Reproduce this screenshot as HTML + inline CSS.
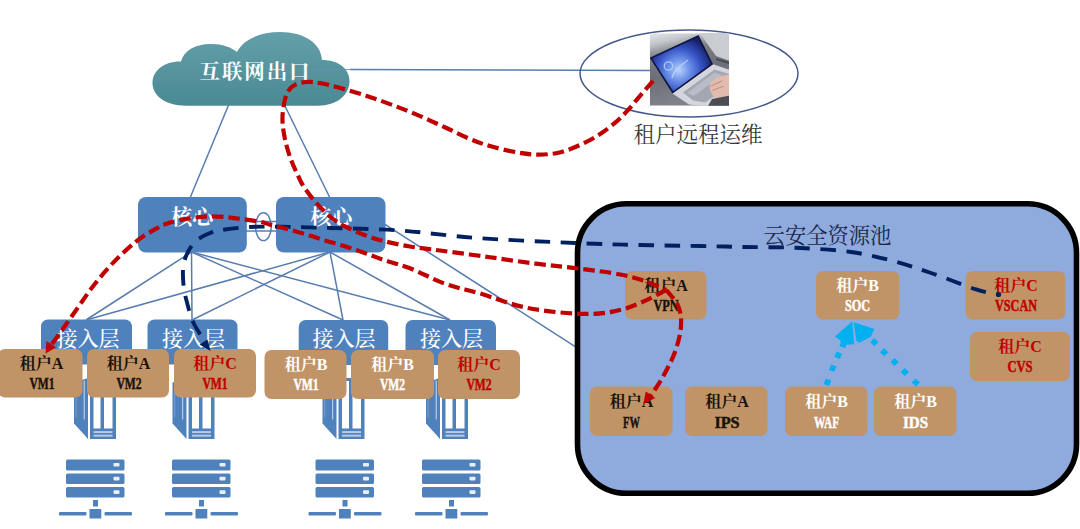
<!DOCTYPE html>
<html lang="zh-CN">
<head>
<meta charset="utf-8">
<title>云安全资源池</title>
<style>
  html,body{margin:0;padding:0;background:#fff;}
  body{width:1080px;height:529px;overflow:hidden;}
  svg{display:block;}
  .song{font-family:"Liberation Serif","Noto Serif CJK SC",serif;}
  .b{font-weight:700;}
  .w{fill:#fff;}
  .k{fill:#1a120a;}
  .r{fill:#c00000;}
  text[lengthAdjust].k{stroke:#1a120a;stroke-width:.45;}
  text[lengthAdjust].w{stroke:#fff;stroke-width:.45;}
  text[lengthAdjust].r{stroke:#c00000;stroke-width:.45;}
  .ln{stroke:#587cb0;stroke-width:1.5;fill:none;}
  .tan{fill:#c19467;}
  .acc{fill:#4f81bd;}
  .srv{fill:#4f81bd;}
  .red{stroke:#c00000;stroke-width:4.2;fill:none;stroke-dasharray:11.5 5;}
  .navy{stroke:#002060;stroke-width:3.9;fill:none;stroke-dasharray:15.5 10.5;stroke-dashoffset:13.5;}
  .cy{stroke:#00b0f0;stroke-width:6;fill:none;stroke-dasharray:6 8.5;}
</style>
</head>
<body>
<svg width="1080" height="529" viewBox="0 0 1080 529">
<defs>
  <linearGradient id="cloudg" x1="0" y1="0" x2="0" y2="1">
    <stop offset="0" stop-color="#639fa8"/>
    <stop offset="1" stop-color="#4a8a94"/>
  </linearGradient>
  <g id="rack">
    <rect x="0" y="0" width="58.5" height="11" rx="1.5" class="srv"/>
    <rect x="0" y="14" width="58.5" height="10.5" rx="1.5" class="srv"/>
    <rect x="0" y="27.5" width="58.5" height="10.5" rx="1.5" class="srv"/>
    <rect x="47.5" y="3.5" width="6" height="3.6" rx="0.8" fill="#eaf0f8"/>
    <rect x="47.5" y="17.3" width="6" height="3.6" rx="0.8" fill="#eaf0f8"/>
    <rect x="47.5" y="30.8" width="6" height="3.6" rx="0.8" fill="#eaf0f8"/>
    <rect x="27" y="40.5" width="5" height="6.5" class="srv"/>
    <rect x="23.5" y="49.5" width="11.8" height="9.5" class="srv"/>
    <rect x="-7" y="52.5" width="27.5" height="3.6" rx="1" class="srv"/>
    <rect x="38.5" y="52.5" width="27.5" height="3.6" rx="1" class="srv"/>
  </g>
  <g id="tower">
    <!-- side panel -->
    <polygon points="0,15 14,10.500 14,71.500 0,56" class="srv"/>
    <line x1="10.200" y1="13" x2="10.200" y2="52" stroke="#dbe6f4" stroke-width="0.900"/>
    <line x1="2.200" y1="16" x2="2.200" y2="50" stroke="#86a7d4" stroke-width="0.800"/>
    <!-- front -->
    <rect x="16" y="10.500" width="26" height="61" class="srv"/>
    <rect x="19.500" y="13.500" width="7" height="47.500" fill="#fff"/>
    <rect x="30" y="13.500" width="8.500" height="47.500" fill="#fff"/>
    <rect x="19.500" y="63.600" width="19" height="2" fill="#b7cbe8"/>
    <rect x="19.500" y="67.200" width="19" height="2" fill="#b7cbe8"/>
  </g>
</defs>

<!-- ============ thin connector lines ============ -->
<g class="ln">
  <line x1="350" y1="69.5" x2="651" y2="70.5"/>
  <line x1="229" y1="104" x2="190" y2="198"/>
  <line x1="284" y1="104" x2="330" y2="198"/>
  <!-- core1 fan-out -->
  <line x1="191.5" y1="252" x2="86" y2="320"/>
  <line x1="191.5" y1="252" x2="192" y2="320"/>
  <line x1="191.5" y1="252" x2="343" y2="320"/>
  <line x1="191.5" y1="252" x2="450" y2="320"/>
  <!-- core2 fan-out -->
  <line x1="330" y1="252" x2="86" y2="320"/>
  <line x1="330" y1="252" x2="192" y2="320"/>
  <line x1="330" y1="252" x2="343" y2="320"/>
  <line x1="330" y1="252" x2="450" y2="320"/>
  <!-- core2 to pool -->
  <line x1="385" y1="224.4" x2="576" y2="347.2"/>
  <!-- inter-core -->
  <line x1="246" y1="221.5" x2="277" y2="221.5"/>
  <line x1="246" y1="231" x2="277" y2="231"/>
  <ellipse cx="263.4" cy="226.7" rx="7.9" ry="13.9"/>
  <ellipse cx="689" cy="73.5" rx="109" ry="43.5" stroke="#44598a"/>
</g>

<!-- ============ cloud ============ -->
<path id="cloud" fill="url(#cloudg)" d="M186,105.7 C166,105.7 152.5,96 152.5,83 C152.5,70 165,61 181,61.5 C184,50 197,43.5 212,44 C222,44 231,47 237,52 C243,39.500 260,32 280,32 C304,32 321,43 322,60 C338,60 349.500,68.500 349.500,81 C349.500,95 337,105.700 318,105.700 Z"/>
<text x="254.500" y="78.500" text-anchor="middle" class="song b w" font-size="20.500" textLength="110">互联网出口</text>

<line x1="310" y1="69.4" x2="351" y2="69.5" stroke="#6d8fb8" stroke-width="1.1" opacity="0.8"/>

<!-- ============ core ============ -->
<rect x="138" y="197" width="108.800" height="55.500" rx="8" class="acc"/>
<rect x="276" y="197" width="109.500" height="55.500" rx="8" class="acc"/>
<text x="192.300" y="224.300" text-anchor="middle" class="song b w" font-size="21">核心</text>
<text x="331.300" y="224.300" text-anchor="middle" class="song b w" font-size="21">核心</text>

<!-- ============ access layer ============ -->
<rect x="41" y="319.500" width="91" height="45" rx="7" class="acc"/>
<rect x="147.500" y="319.500" width="90" height="45" rx="7" class="acc"/>
<rect x="298.700" y="320" width="89.500" height="45" rx="7" class="acc"/>
<rect x="405.500" y="320" width="90.500" height="45" rx="7" class="acc"/>
<g class="song w" font-size="21" font-weight="500" text-anchor="middle">
  <text x="88" y="345.600">接入层</text>
  <text x="193.500" y="345.600">接入层</text>
  <text x="344" y="346.200">接入层</text>
  <text x="451.500" y="346.200">接入层</text>
</g>

<!-- ============ tower servers ============ -->
<use href="#tower" x="74" y="367.500"/>
<use href="#tower" x="172.500" y="367.500"/>
<use href="#tower" x="322.500" y="367.500"/>
<use href="#tower" x="426" y="367.500"/>

<!-- ============ rack servers ============ -->
<use href="#rack" x="66" y="459.500"/>
<use href="#rack" x="172" y="459.500"/>
<use href="#rack" x="315.500" y="459.500"/>
<use href="#rack" x="422" y="459.500"/>

<!-- ============ tenant VM boxes ============ -->
<g class="tan">
  <rect x="-2" y="349" width="84.500" height="48.500" rx="7"/>
  <rect x="87" y="349" width="82" height="48.500" rx="7"/>
  <rect x="174" y="349" width="82" height="48.500" rx="7"/>
  <rect x="264.500" y="350" width="82" height="49" rx="7"/>
  <rect x="351" y="350" width="83" height="49" rx="7"/>
  <rect x="438" y="350" width="82" height="49" rx="7"/>
</g>
<g class="song b" font-size="16" text-anchor="middle">
  <text x="41.500" y="369" class="k">租户A</text><text x="42" y="388.700" class="k" textLength="25.2" lengthAdjust="spacingAndGlyphs">VM1</text>
  <text x="128.500" y="369" class="k">租户A</text><text x="129" y="388.700" class="k" textLength="25.2" lengthAdjust="spacingAndGlyphs">VM2</text>
  <text x="215" y="369" class="r">租户C</text><text x="215" y="388.700" class="r" textLength="25.2" lengthAdjust="spacingAndGlyphs">VM1</text>
  <text x="306" y="370" class="w">租户B</text><text x="306" y="390" class="w" textLength="25.2" lengthAdjust="spacingAndGlyphs">VM1</text>
  <text x="392.500" y="370" class="w">租户B</text><text x="392.500" y="390" class="w" textLength="25.2" lengthAdjust="spacingAndGlyphs">VM2</text>
  <text x="479" y="370" class="r">租户C</text><text x="479" y="390" class="r" textLength="25.2" lengthAdjust="spacingAndGlyphs">VM2</text>
</g>

<!-- ============ security pool panel ============ -->
<rect x="577.500" y="203.800" width="499" height="289.500" rx="49" fill="#8faadc" stroke="#000" stroke-width="5.600"/>
<text x="827.500" y="242.600" text-anchor="middle" class="song" font-size="21.300" fill="#1a2748">云安全资源池</text>
<g class="tan">
  <rect x="625" y="271" width="81.500" height="48.500" rx="7"/>
  <rect x="816" y="271" width="83.500" height="48.500" rx="7"/>
  <rect x="965.500" y="271" width="100" height="48.500" rx="7"/>
  <rect x="970" y="332" width="100" height="49" rx="7"/>
  <rect x="590" y="386.500" width="82.500" height="49.500" rx="7"/>
  <rect x="685" y="386.500" width="82.500" height="49.500" rx="7"/>
  <rect x="785" y="386.500" width="82.500" height="49.500" rx="7"/>
  <rect x="874" y="386.500" width="82.500" height="49.500" rx="7"/>
</g>
<g class="song b" font-size="16" text-anchor="middle">
  <text x="666" y="291" class="k">租户A</text><text x="666" y="311" class="k" textLength="25.2" lengthAdjust="spacingAndGlyphs">VPN</text>
  <text x="857.500" y="291" class="w">租户B</text><text x="857.500" y="311" class="w" textLength="25.2" lengthAdjust="spacingAndGlyphs">SOC</text>
  <text x="1016" y="291" class="r">租户C</text><text x="1016" y="311" class="r" textLength="42.0" lengthAdjust="spacingAndGlyphs">VSCAN</text>
  <text x="1020" y="352" class="r">租户C</text><text x="1020" y="372" class="r" textLength="25.2" lengthAdjust="spacingAndGlyphs">CVS</text>
  <text x="631.500" y="407" class="k">租户A</text><text x="631.500" y="427.500" class="k" textLength="16.8" lengthAdjust="spacingAndGlyphs">FW</text>
  <text x="727" y="407" class="k">租户A</text><text x="727" y="427.500" class="k" textLength="25.2" lengthAdjust="spacingAndGlyphs">IPS</text>
  <text x="826.500" y="407" class="w">租户B</text><text x="826.500" y="427.500" class="w" textLength="25.2" lengthAdjust="spacingAndGlyphs">WAF</text>
  <text x="915.500" y="407" class="w">租户B</text><text x="915.500" y="427.500" class="w" textLength="25.2" lengthAdjust="spacingAndGlyphs">IDS</text>
</g>

<!-- ============ remote ops label ============ -->
<text x="698" y="142" text-anchor="middle" class="song" font-size="21.500" fill="#3a3a3a">租户远程运维</text>

<!-- ============ laptop photo (drawn) ============ -->
<g id="laptop">
  <defs>
    <clipPath id="lc"><rect x="649.800" y="33.300" width="79.200" height="72.400"/></clipPath>
    <linearGradient id="lbg" x1="0" y1="0" x2="0.250" y2="1">
      <stop offset="0" stop-color="#e4e6ea"/>
      <stop offset="0.150" stop-color="#c3c6cb"/>
      <stop offset="0.320" stop-color="#7b7e84"/>
      <stop offset="0.600" stop-color="#6c6f75"/>
      <stop offset="1" stop-color="#80838a"/>
    </linearGradient>
    <radialGradient id="lscr" cx="679" cy="70" r="34" gradientUnits="userSpaceOnUse">
      <stop offset="0" stop-color="#b9d2fa"/>
      <stop offset="0.300" stop-color="#6f95ea"/>
      <stop offset="0.650" stop-color="#3552c4"/>
      <stop offset="1" stop-color="#18226c"/>
    </radialGradient>
    <filter id="lblur" x="-5%" y="-5%" width="110%" height="110%"><feGaussianBlur stdDeviation="0.550"/></filter>
  </defs>
  <g clip-path="url(#lc)">
    <rect x="649.800" y="33.300" width="79.200" height="72.400" fill="url(#lbg)"/>
    <g filter="url(#lblur)">
      <polygon points="700,33 730,33 730,61 716,56 706,42" fill="#c9ccd1"/>
      <polygon points="716,58 730,62 730,64.500 716,60" fill="#4a4d55"/>
      <!-- deck -->
      <polygon points="672.500,93.500 713,64.200 730,70 730,92 710,106.500 689,104.500" fill="#d3d6dc"/>
      <polygon points="683,92.500 714.500,69.500 729.500,74 729.500,86 705,102.500 693,100.500" fill="#a3a7b1"/>
      <polygon points="687,93 714.500,72.500 722,75 694,96" fill="#b9bcc5"/>
      <!-- screen -->
      <polygon points="649.800,57.700 698.500,35 713,64.200 672.500,93.500" fill="#10143c"/>
      <polygon points="652,58.600 697.600,37.300 711,63.800 673.200,91.200" fill="url(#lscr)"/>
      <circle cx="668.500" cy="66" r="4.200" fill="none" stroke="#b9d2fa" stroke-width="1.300" opacity="0.850"/>
      <path d="M672,78 C674,70 680,66 688,60" stroke="#c7dcfb" stroke-width="1.400" fill="none" opacity="0.700"/>
      <!-- hand -->
      <path d="M710.500,83 C714,78.500 720,75.500 730,74.500 L730,97.500 L716,98.500 C711,95 708.500,88 710.500,83 Z" fill="#e2bbaf"/>
      <path d="M711,86 L722,81 M712.500,90.500 L724,86" stroke="#c98f83" stroke-width="1.100" fill="none"/>
      <polygon points="712,99 730,95.500 730,106 708,106" fill="#4c4f55"/>
    </g>
  </g>
</g>

<!-- ============ flow curves ============ -->
<g fill="#00b0f0">
  <rect x="824.5" y="379.4" width="5.8" height="5.8" transform="rotate(-68 827.4 382.3)"/>
  <rect x="829.8" y="365.3" width="5.8" height="5.8" transform="rotate(-68 832.7 368.2)"/>
  <rect x="835.3" y="352.4" width="5.8" height="5.8" transform="rotate(-68 838.2 355.3)"/>
  <rect x="840.4" y="341.6" width="5.8" height="5.8" transform="rotate(-68 843.3 344.5)"/>
  <rect x="912.9" y="379.6" width="5.8" height="5.8" transform="rotate(44 915.8 382.5)"/>
  <rect x="901.9" y="369.1" width="5.8" height="5.8" transform="rotate(44 904.8 372.0)"/>
  <rect x="891.7" y="359.1" width="5.8" height="5.8" transform="rotate(44 894.6 362.0)"/>
  <rect x="881.3" y="349.3" width="5.8" height="5.8" transform="rotate(44 884.2 352.2)"/>
  <rect x="871.4" y="339.3" width="5.8" height="5.8" transform="rotate(44 874.3 342.2)"/>
</g>
<polygon fill="#00b0f0" points="852.300,321.300 834.900,336.400 840.200,340.200 841.500,345 854.200,344.300"/>
<polygon fill="#00b0f0" points="853.700,322.200 874.400,329 871,336.500 859.300,342.800 856.300,340.400"/>

<path class="navy" d="M998.0,294.4 C994.3,293.6 986.7,292.8 976.0,289.4 C965.3,286.0 947.4,278.6 934.0,274.0 C920.6,269.4 909.3,265.4 895.5,261.7 C881.7,258.0 867.7,254.3 851.0,252.0 C834.3,249.7 813.3,248.6 795.5,247.8 C777.7,247.0 759.9,247.3 744.0,247.0 C728.1,246.7 717.3,246.3 700.0,246.0 C682.7,245.7 660.8,245.5 640.0,245.0 C619.2,244.5 602.2,244.2 575.0,243.0 C547.8,241.8 506.2,240.1 477.0,238.0 C447.8,235.9 424.5,232.2 400.0,230.5 C375.5,228.8 350.0,228.6 330.0,228.0 C310.0,227.4 293.3,226.9 280.0,226.7 C266.7,226.5 259.2,226.5 250.0,227.0 C240.8,227.5 231.7,228.5 225.0,229.5 C218.3,230.5 215.2,230.8 210.0,233.0 C204.8,235.2 198.1,238.1 193.8,243.0 C189.5,247.9 185.7,255.4 184.0,262.4 C182.3,269.4 182.9,278.1 183.5,285.0 C184.1,291.9 185.7,297.6 187.4,304.0 C189.1,310.4 190.7,317.0 193.8,323.5 C196.9,330.0 204.0,339.8 206.0,343.0"/>
<polygon fill="#002060" points="210.500,351 199.500,344.500 207.500,339.500"/>
<circle cx="998.500" cy="294.500" r="2.600" fill="#002060"/>

<path class="red" d="M653.0,80.8 C650.9,83.2 644.7,90.4 640.5,95.3 C636.3,100.2 632.2,105.5 628.0,110.0 C623.8,114.5 620.3,118.3 615.5,122.4 C610.7,126.5 604.9,131.0 599.0,134.8 C593.1,138.6 586.6,142.1 580.0,145.0 C573.4,147.9 566.3,150.9 559.4,152.5 C552.5,154.1 545.5,154.6 538.6,154.6 C531.7,154.6 525.8,153.9 517.8,152.5 C509.8,151.1 498.8,148.6 490.8,146.3 C482.8,144.1 477.6,142.1 470.0,139.0 C462.4,135.9 453.8,131.4 445.3,127.5 C436.8,123.6 427.7,119.3 418.9,115.6 C410.1,111.8 401.2,108.3 392.4,105.0 C383.6,101.7 374.8,98.6 366.0,95.7 C357.2,92.8 346.9,89.9 339.4,87.8 C331.9,85.7 326.3,84.3 321.0,83.3 C315.7,82.3 311.9,81.8 307.7,82.0 C303.5,82.2 299.0,82.8 295.7,84.4 C292.4,86.0 289.8,88.4 287.8,91.8 C285.8,95.2 284.7,100.1 283.8,105.0 C282.9,109.9 282.3,115.3 282.5,121.0 C282.7,126.7 283.7,133.2 285.0,139.4 C286.3,145.6 288.2,151.8 290.4,158.0 C292.6,164.2 296.1,171.7 298.4,176.5 C300.7,181.3 301.2,182.8 304.0,187.0 C306.8,191.2 311.0,197.0 315.4,202.0 C319.8,207.0 325.5,212.9 330.5,217.0 C335.5,221.1 339.9,223.7 345.6,226.7 C351.3,229.7 358.2,232.6 364.5,235.0 C370.8,237.4 375.8,239.1 383.4,241.0 C391.0,242.9 400.6,244.9 410.0,246.5 C419.4,248.1 427.0,248.8 440.0,250.5 C453.0,252.2 472.0,254.8 488.0,257.0 C504.0,259.2 520.9,261.8 536.0,263.7 C551.1,265.6 564.3,266.7 578.4,268.5 C592.5,270.3 609.1,272.3 620.5,274.5 C631.9,276.7 639.4,279.2 647.0,281.8 C654.6,284.4 663.1,288.6 666.3,290.0"/>
<path class="red" d="M666.3,290.0 C661.9,292.2 648.7,299.4 640.0,303.0 C631.3,306.6 624.0,309.6 614.0,311.4 C604.0,313.2 594.5,314.4 580.0,313.8 C565.5,313.2 543.7,311.2 527.0,307.8 C510.3,304.4 493.6,297.5 480.0,293.5 C466.4,289.5 457.3,288.2 445.6,284.0 C433.9,279.8 420.4,272.3 410.0,268.3 C399.6,264.3 391.0,262.4 383.4,259.8 C375.8,257.2 370.8,255.2 364.5,253.0 C358.2,250.8 351.9,248.5 345.6,246.5 C339.3,244.5 333.0,242.9 326.7,241.0 C320.4,239.1 314.1,236.9 307.8,235.0 C301.5,233.1 295.3,231.2 289.0,229.5 C282.7,227.8 274.8,225.9 270.0,224.6 C265.2,223.3 265.7,222.9 260.0,221.8 C254.3,220.8 244.0,219.2 236.0,218.3 C228.0,217.4 219.6,216.3 212.0,216.3 C204.4,216.3 197.6,217.1 190.6,218.2 C183.6,219.2 175.7,220.9 170.0,222.6 C164.3,224.3 162.2,225.2 156.5,228.4 C150.8,231.6 143.2,235.9 136.0,241.6 C128.8,247.3 120.5,255.2 113.5,262.4 C106.5,269.6 99.9,277.5 94.0,285.0 C88.1,292.5 83.3,299.9 78.0,307.4 C72.7,314.9 66.8,323.2 62.0,330.0 C57.2,336.8 51.2,345.0 49.0,348.0"/>
<path class="red" d="M666.3,290.0 C668.3,292.7 675.8,300.0 678.2,306.0 C680.7,312.0 681.5,318.3 681.0,326.0 C680.5,333.7 678.1,343.4 675.0,352.0 C671.9,360.6 666.4,370.5 662.5,377.6 C658.6,384.7 653.8,391.1 651.5,394.5 C649.2,397.9 649.4,397.4 649.0,398.0"/>
<polygon fill="#c00000" points="45.500,353.500 46.500,341 56,347.500"/>
<polygon fill="#c00000" points="643.300,404 645.800,391.600 655.300,398"/>

</svg>
</body>
</html>
